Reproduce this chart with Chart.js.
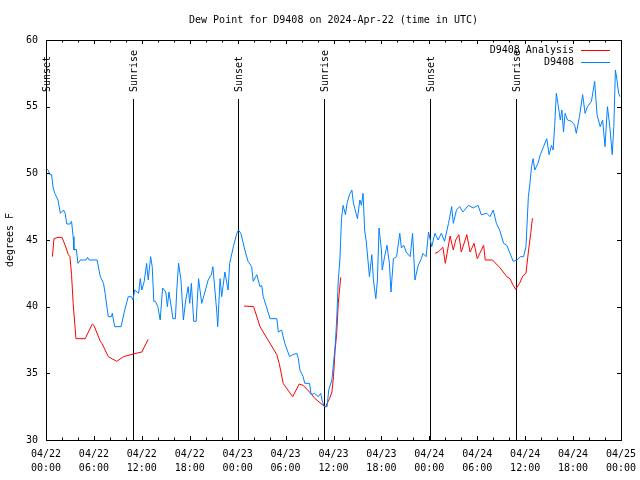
<!DOCTYPE html>
<html>
<head>
<meta charset="utf-8">
<script src="https://cdn.jsdelivr.net/npm/chart.js@4.4.1/dist/chart.umd.min.js"></script>
<style>
  html, body { margin: 0; padding: 0; background: #ffffff; }
  #dewChart { display: block; }
</style>
</head>
<body>
<canvas id="dewChart" width="640" height="480"></canvas>
<script>
// hours since 04/22 00:00 UTC
const dewHours = [
    0.0, 0.3, 0.5, 0.7, 0.9, 1.1, 1.5, 1.8, 2.2, 2.4, 2.6, 3.0, 3.2, 3.4, 3.5, 3.8,
    4.0, 4.3, 5.0, 5.2, 5.4, 6.4, 6.8, 7.2, 7.4, 7.8, 8.2, 8.3, 8.6, 9.4, 9.8, 10.3,
    10.7, 10.9, 11.1, 11.6, 11.8, 12.0, 12.3, 12.6, 12.8, 13.1, 13.3, 13.5, 13.7, 14.0,
    14.3, 14.6, 15.0, 15.2, 15.4, 15.9, 16.2, 16.4, 16.6, 16.9, 17.2, 17.5, 17.8, 18.0,
    18.2, 18.5, 18.8, 19.1, 19.5, 19.9, 20.3, 20.7, 20.9, 21.4, 21.5, 21.8, 22.0, 22.4,
    22.8, 23.0, 23.5, 23.9, 24.1, 24.4, 24.9, 25.3, 25.75, 25.95, 26.4, 26.8, 27.0, 27.2,
    27.6, 28.05, 28.9, 29.1, 29.5, 29.9, 30.5, 30.9, 31.4, 31.6, 31.8, 32.2, 32.4, 33.0,
    33.2, 33.6, 34.1, 34.4, 34.6, 34.85, 35.2, 35.4, 35.8, 36.0, 36.2, 36.4, 36.6, 36.8,
    37.0, 37.2, 37.5, 37.7, 38.0, 38.3, 38.5, 39.0, 39.3, 39.5, 39.7, 39.9, 40.1, 40.5,
    40.8, 41.0, 41.3, 41.5, 41.7, 42.0, 42.1, 42.4, 42.7, 43.0, 43.2, 43.5, 43.9, 44.3,
    44.5, 44.8, 45.1, 45.6, 45.9, 46.2, 46.6, 47.0, 47.2, 47.6, 47.9, 48.3, 48.7, 49.1,
    49.5, 49.9, 50.4, 50.8, 51.0, 51.4, 51.8, 52.2, 52.9, 53.5, 54.1, 54.5, 55.2, 55.6,
    56.0, 56.4, 56.8, 57.3, 57.7, 58.1, 58.5, 59.0, 59.4, 59.8, 60.1, 60.4, 60.6, 60.8,
    61.0, 61.2, 61.6, 61.9, 62.3, 62.7, 63.0, 63.3, 63.5, 63.7, 63.9, 64.1, 64.4, 64.6,
    64.8, 65.0, 65.3, 65.8, 66.2, 66.4, 66.8, 67.2, 67.5, 67.8, 68.3, 68.7, 69.0, 69.4,
    69.7, 70.0, 70.3, 70.6, 70.9, 71.1, 71.3, 71.5, 71.7, 71.9
];
const dewValues = [
    50.4, 50.2, 49.9, 49.9, 48.9, 48.5, 48.0, 47.0, 47.25, 47.0, 46.2, 46.2, 46.4, 45.25, 44.25, 44.3,
    43.25, 43.5, 43.5, 43.7, 43.5, 43.5, 42.25, 41.75, 41.0, 39.25, 39.25, 39.5, 38.5, 38.5, 39.6, 40.75,
    40.75, 40.5, 41.25, 41.0, 42.1, 41.25, 41.9, 43.25, 42.0, 43.75, 43.0, 40.4, 40.4, 40.0,
    39.0, 41.4, 41.1, 40.0, 41.1, 39.1, 39.1, 41.5, 43.25, 42.0, 39.0, 40.5, 41.5, 40.25,
    41.75, 38.9, 38.9, 42.1, 40.25, 41.1, 42.0, 42.4, 43.0, 39.5, 38.5, 42.1, 40.75, 42.6,
    41.25, 43.25, 44.6, 45.5, 45.75, 45.5, 44.25, 43.4, 43.0, 41.9, 42.4, 41.5, 41.6, 40.75,
    40.0, 39.1, 39.1, 38.1, 38.25, 37.25, 36.25, 36.4, 36.5, 36.1, 35.25, 34.75, 34.25, 34.25,
    33.4, 33.5, 33.25, 33.5, 32.9, 32.5, 32.5, 33.75, 34.5, 35.75, 37.0, 39.0, 42.0, 43.5,
    46.6, 47.6, 46.9, 47.75, 48.4, 48.75, 47.75, 46.6, 48.0, 47.6, 48.5, 45.75, 44.9, 42.25,
    43.9, 42.0, 40.6, 42.0, 45.9, 44.25, 42.75, 43.75, 44.6, 43.25, 41.1, 43.6, 43.75, 45.5,
    44.4, 44.6, 44.1, 43.75, 45.5, 42.0, 43.1, 43.6, 44.0, 43.75, 45.6, 44.5, 45.5, 45.0,
    45.5, 44.9, 46.25, 47.5, 46.25, 47.25, 47.5, 47.1, 47.6, 47.4, 47.6, 46.9, 47.0, 46.75,
    47.25, 46.25, 45.75, 44.75, 44.6, 44.0, 43.4, 43.5, 43.75, 43.75, 44.5, 48.25, 49.25, 50.5,
    51.1, 50.25, 50.75, 51.4, 52.0, 52.6, 51.4, 52.1, 51.75, 53.6, 56.0, 55.25, 54.0, 54.75,
    53.1, 54.5, 54.0, 53.9, 53.6, 53.0, 54.25, 55.9, 54.5, 55.0, 55.4, 56.9, 54.4, 53.5,
    54.0, 52.0, 55.0, 53.5, 51.4, 53.5, 57.75, 57.0, 56.0, 55.75
];

// analysis series, null marks the gaps
const analysisHours = [
    0.8, 1.0, 1.5, 2.0, 2.4, 2.8, 3.0, 3.2, 3.4, 3.75, 4.9, 5.8, 6.0, 6.8, 7.0, 7.8,
    8.85, 9.7, 10.9, 12.0, 12.8,
    18.0,
    24.8, 26.0, 26.8, 27.8, 28.9, 29.2, 29.7, 30.1, 30.9, 31.7, 32.2, 33.0, 33.7, 34.7,
    35.0, 35.5, 35.8, 36.0, 36.2, 36.4, 36.6, 36.9,
    42.0,
    48.7, 49.1, 49.7, 50.0, 50.6, 51.0, 51.3, 51.7, 52.0, 52.7, 53.1, 53.6, 54.0, 54.8,
    55.0, 55.9, 56.8, 57.7, 58.1, 58.5, 58.8, 59.3, 59.7, 60.1, 60.4, 60.7, 60.9, 61.0
];
const analysisValues = [
    43.75, 45.1, 45.2, 45.2, 44.6, 43.9, 43.75, 42.4, 40.25, 37.6, 37.6, 38.7, 38.6, 37.4, 37.25, 36.25,
    35.9, 36.25, 36.45, 36.6, 37.55,
    null,
    40.05, 40.0, 38.5, 37.5, 36.4, 35.75, 34.25, 33.9, 33.25, 34.2, 34.1, 33.6, 33.1, 32.6,
    32.5, 33.1, 33.6, 34.75, 36.75, 38.0, 40.25, 42.2,
    null,
    44.0, 44.1, 44.45, 43.25, 45.3, 44.25, 45.0, 45.4, 44.1, 45.4, 44.1, 44.75, 43.6, 44.6,
    43.5, 43.5, 42.95, 42.25, 42.1, 41.6, 41.3, 41.75, 42.3, 42.5, 44.1, 45.5, 46.6, 46.6
];

const sunHours = [0.0, 10.93, 24.07, 34.83, 48.1, 58.9];
const sunLabels = ['Sunset', 'Sunrise', 'Sunset', 'Sunrise', 'Sunset', 'Sunrise'];

const xTickDates = ['04/22', '04/22', '04/22', '04/22', '04/23', '04/23', '04/23', '04/23',
                    '04/24', '04/24', '04/24', '04/24', '04/25'];
const xTickTimes = ['00:00', '06:00', '12:00', '18:00', '00:00', '06:00', '12:00', '18:00',
                    '00:00', '06:00', '12:00', '18:00', '00:00'];

const FONT = 'DejaVu Sans Mono';
const RED = '#ff0000';
const BLUE = '#0080ff';

function toPoints(xs, ys) {
    return xs.map((x, i) => ({ x: x, y: ys[i] }));
}

// frame, inward ticks, sunrise/sunset markers and gnuplot-like key
const overlayPlugin = {
    id: 'overlay',
    beforeDatasetsDraw(chart) {
        const ctx = chart.ctx;
        const area = chart.chartArea;
        const xs = chart.scales.x;
        ctx.save();
        ctx.strokeStyle = '#000';
        ctx.lineWidth = 1;
        ctx.font = '10px ' + FONT;
        ctx.fillStyle = '#000';
        sunHours.forEach((h, i) => {
            const px = Math.round(xs.getPixelForValue(h)) + 0.5;
            ctx.beginPath();
            ctx.moveTo(px, area.bottom);
            ctx.lineTo(px, 99);
            ctx.stroke();
            ctx.save();
            ctx.translate(px + 1, 92);
            ctx.rotate(-Math.PI / 2);
            ctx.textAlign = 'left';
            ctx.textBaseline = 'middle';
            ctx.fillText(sunLabels[i], 0, 0);
            ctx.restore();
        });
        ctx.restore();
    },
    afterDraw(chart) {
        const ctx = chart.ctx;
        const area = chart.chartArea;
        const xs = chart.scales.x;
        const ys = chart.scales.y;
        ctx.save();
        ctx.strokeStyle = '#000';
        ctx.lineWidth = 1;
        ctx.strokeRect(area.left + 0.5, area.top + 0.5, area.right - area.left, area.bottom - area.top);

        ctx.beginPath();
        for (let h = 0; h <= 72; h += 2) {
            const px = Math.round(xs.getPixelForValue(h)) + 0.5;
            const len = h % 6 === 0 ? 4 : 2.5;
            ctx.moveTo(px, area.bottom);
            ctx.lineTo(px, area.bottom - len);
            ctx.moveTo(px, area.top);
            ctx.lineTo(px, area.top + len);
        }
        for (let v = 30; v <= 60; v += 5) {
            const py = Math.round(ys.getPixelForValue(v)) + 0.5;
            ctx.moveTo(area.left, py);
            ctx.lineTo(area.left + 4, py);
            ctx.moveTo(area.right, py);
            ctx.lineTo(area.right - 4, py);
        }
        ctx.stroke();

        // key
        ctx.font = '10px ' + FONT;
        ctx.textAlign = 'right';
        ctx.textBaseline = 'middle';
        ctx.fillStyle = '#000';
        const keys = [['D9408 Analysis', RED, 50.5], ['D9408', BLUE, 62.5]];
        keys.forEach(k => {
            ctx.fillText(k[0], 574, k[2]);
            ctx.strokeStyle = k[1];
            ctx.beginPath();
            ctx.moveTo(581, k[2]);
            ctx.lineTo(610, k[2]);
            ctx.stroke();
        });
        ctx.restore();
    }
};

new Chart(document.getElementById('dewChart').getContext('2d'), {
    type: 'line',
    data: {
        datasets: [{
            label: 'D9408 Analysis',
            data: toPoints(analysisHours, analysisValues),
            borderColor: RED,
            borderWidth: 1,
            pointRadius: 0,
            tension: 0,
            spanGaps: false,
            order: 2
        }, {
            label: 'D9408',
            data: toPoints(dewHours, dewValues),
            borderColor: BLUE,
            borderWidth: 1,
            pointRadius: 0,
            tension: 0,
            order: 1
        }]
    },
    options: {
        responsive: false,
        animation: false,
        devicePixelRatio: 1,
        layout: { padding: { top: 0, right: 19, left: 0, bottom: 0 } },
        plugins: {
            legend: { display: false },
            tooltip: { enabled: false },
            title: {
                display: true,
                text: 'Dew Point for D9408 on 2024-Apr-22 (time in UTC)',
                color: '#000',
                fullSize: false,
                font: { family: FONT, size: 10, weight: 'normal', lineHeight: 1.2 },
                padding: { top: 14, bottom: 14 }
            }
        },
        scales: {
            x: {
                type: 'linear',
                min: 0,
                max: 72,
                grid: { display: false, drawTicks: false },
                border: { display: false },
                ticks: {
                    stepSize: 6,
                    autoSkip: false,
                    maxRotation: 0,
                    padding: 7,
                    color: '#000',
                    font: { family: FONT, size: 10, lineHeight: 1.4 },
                    callback: (value) => {
                        const i = Math.round(value / 6);
                        return [xTickDates[i], xTickTimes[i]];
                    }
                },
                afterFit: (scale) => {
                    scale.height = 40;
                    scale.paddingLeft = 0;
                    scale.paddingRight = 0;
                }
            },
            y: {
                min: 30,
                max: 60,
                grid: { display: false, drawTicks: false },
                border: { display: false },
                ticks: {
                    stepSize: 5,
                    padding: 8,
                    color: '#000',
                    font: { family: FONT, size: 10 }
                },
                title: {
                    display: true,
                    text: 'degrees F',
                    color: '#000',
                    font: { family: FONT, size: 10 },
                    padding: { top: 4, bottom: 4 }
                },
                afterFit: (scale) => { scale.width = 46; }
            }
        }
    },
    plugins: [overlayPlugin]
});
</script>
</body>
</html>
